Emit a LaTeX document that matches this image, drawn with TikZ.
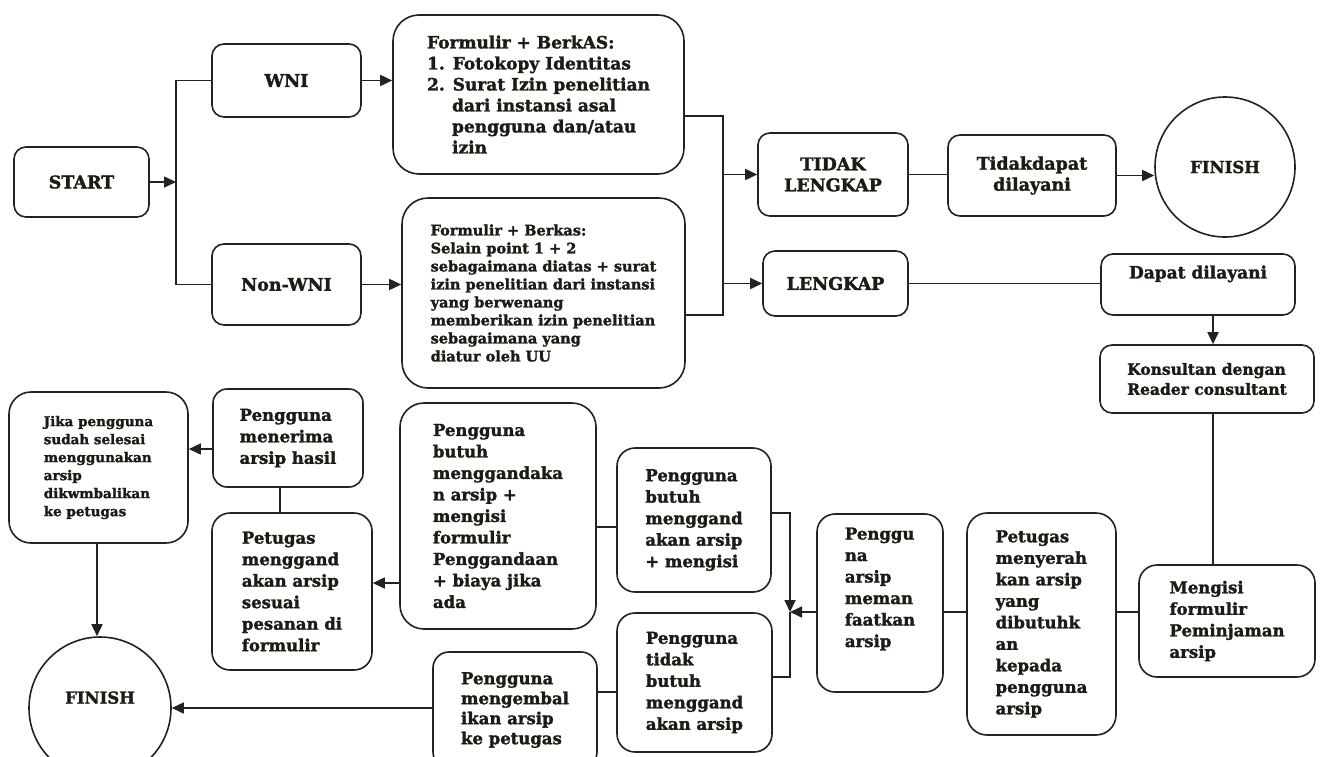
\documentclass[tikz,border=0pt]{standalone}
\usepackage{fontspec}
\setmainfont{DejaVu Serif}[BoldFeatures={FakeBold=1.6}]
\usetikzlibrary{arrows.meta}
\definecolor{ink}{HTML}{222222}
\definecolor{txt}{HTML}{1E1A14}
\begin{document}
\begin{tikzpicture}[x=1pt,y=-1pt,
  box/.style={draw=ink, line width=1.6pt, rounded corners=#1, inner sep=0pt, align=left,
    font=\bfseries\fontsize{16.5}{21.5}\selectfont, text=txt},
  box/.default=12pt,
  sz/.style n args={2}{minimum width=#1pt, minimum height=#2pt},
  endc/.style={draw=ink, line width=1.6pt, circle, inner sep=0pt, minimum size=#1pt,
    font=\bfseries\fontsize{16.5}{20}\selectfont, text=txt},
  ln/.style={draw=ink, line width=1.6pt},
  arr/.style={ln, -{Triangle[length=12pt,width=11pt]}},
  big/.style={font=\bfseries\fontsize{17.5}{21}\selectfont},
  small/.style={font=\bfseries\fontsize{13.5}{18}\selectfont}
]
\fill[white] (0,0) rectangle (1324,756);
\useasboundingbox (0,0) rectangle (1324,756);
\begin{scope}
\clip (0,0) rectangle (1324,756);
% top row
\node[box, sz={135}{70}, big, align=center] (start) at (81.5,182) {START};
\node[box, sz={149}{73}, big, align=center] (wni) at (286.5,80.5) {WNI};
\node[box, sz={149}{81}, big, align=center] (nonwni) at (286.5,284.5) {Non-WNI};
\node[box=26pt, sz={291}{159}, font=\bfseries\fontsize{17}{21}\selectfont] (form1) at (538.5,94.5)
  {Formulir + BerkAS:\\
   1. Fotokopy Identitas\\
   2. Surat Izin penelitian\\
   \hspace*{25pt}dari instansi asal\\
   \hspace*{25pt}pengguna dan/atau\\
   \hspace*{25pt}izin};
\node[box=26pt, sz={283}{190}, font=\bfseries\fontsize{14.5}{18}\selectfont] (form2) at (543.5,293)
  {Formulir + Berkas:\\
   Selain point 1 + 2\\
   sebagaimana diatas + surat\\
   izin penelitian dari instansi\\
   yang berwenang\\
   memberikan izin penelitian\\
   sebagaimana yang\\
   diatur oleh UU};
\node[box, sz={150}{83}, big, align=center] (tidak) at (833,174.5) {TIDAK\\LENGKAP};
\node[box, sz={168}{81}, big, align=center] (tdl) at (1032,175.5) {Tidakdapat\\dilayani};
\node[endc=140] (fin1) at (1225,167) {FINISH};
\node[box, sz={145}{65}, big, align=center] (lengkap) at (835.5,283.5) {LENGKAP};
\node[box, sz={194}{61}, align=center, font=\bfseries\fontsize{17}{21}\selectfont] (dapat) at (1198,284.5) {Dapat dilayani\\[4pt]\mbox{}};
\node[box, sz={214}{68}, font=\bfseries\fontsize{15.5}{20}\selectfont] (kons) at (1207,379)
  {Konsultan dengan\\Reader consultant};
% bottom rows
\node[box=18pt, sz={176}{112}] (mengisi) at (1227,621) {Mengisi\\formulir\\Peminjaman\\arsip};
\node[box=20pt, sz={149}{222}] (petyer) at (1041.5,624)
  {Petugas\\menyerah\\kan arsip\\yang\\dibutuhk\\an\\kepada\\pengguna\\arsip};
\node[box=18pt, sz={126}{178}] (manf) at (880,603)
  {Penggu\\na\\arsip\\meman\\faatkan\\arsip\\[10pt]\mbox{}};
\node[box=18pt, sz={154}{144}] (butuh1) at (694,520)
  {Pengguna\\butuh\\menggand\\akan arsip\\+ mengisi};
\node[box=18pt, sz={155}{139}] (tidakbutuh) at (694.5,682.5)
  {Pengguna\\tidak\\butuh\\menggand\\akan arsip};
\node[box=24pt, sz={196}{226}] (bigbox) at (498,516)
  {Pengguna\\butuh\\menggandaka\\n arsip +\\mengisi\\formulir\\Penggandaan\\+ biaya jika\\ada};
\node[box=16pt, sz={164}{116}, font=\bfseries\fontsize{16.5}{20}\selectfont] (kembali) at (515,710)
  {Pengguna\\mengembal\\ikan arsip\\ke petugas};
\node[box=18pt, sz={160}{157}] (petmg) at (292,591.5)
  {Petugas\\menggand\\akan arsip\\sesuai\\pesanan di\\formulir};
\node[box=14pt, sz={150}{98}] (terima) at (288,438) {Pengguna\\menerima\\arsip hasil};
\node[box=22pt, sz={179}{151}, small] (jika) at (98.5,467.5)
  {Jika pengguna\\sudah selesai\\menggunakan\\arsip\\dikwmbalikan\\ke petugas};
\node[endc=142] (fin2) at (100,708) {\raisebox{21pt}{FINISH}};

% junctions
\coordinate (j1) at (176,182);
\coordinate (j2) at (723,116);
\coordinate (j3) at (723,315);
\coordinate (cx) at (1213,0);
\coordinate (ry) at (0,612);
\coordinate (j4) at (790,612);
\coordinate (b1) at (0,513);
\coordinate (b2) at (0,677);
\coordinate (jx) at (97,0);
\coordinate (tx) at (280,0);

% connectors
\draw[arr] (start.east) -- (j1);
\draw[ln] (wni.west) -| (j1) |- (nonwni.west);
\draw[arr] (wni.east) -- (wni.east -| form1.west);
\draw[arr] (nonwni.east) -- (nonwni.east -| form2.west);
\draw[ln] (form1.east |- j2) -- (j2) -- (j3) -- (form2.east |- j3);
\draw[arr] (j2 |- tidak.west) -- (tidak.west);
\draw[arr] (j2 |- lengkap.west) -- (lengkap.west);
\draw[ln] (tidak.east) -- (tidak.east -| tdl.west);
\draw[arr] (tdl.east) -- (fin1.west |- tdl.east);
\draw[ln] (lengkap.east) -- (lengkap.east -| dapat.west);
\draw[arr] (dapat.south -| cx) -- (kons.north -| cx);
\draw[ln] (kons.south -| cx) -- (mengisi.north -| cx);
\draw[ln] (mengisi.west |- ry) -- (petyer.east |- ry);
\draw[ln] (petyer.west |- ry) -- (manf.east |- ry);
\draw[arr] (manf.west |- ry) -- (j4);
\draw[arr] (butuh1.east |- b1) -| (j4);
\draw[ln] (tidakbutuh.east |- b2) -| (j4);
\draw[ln] (bigbox.east |- 0,527) -- (butuh1.west |- 0,527);
\draw[arr] (bigbox.west |- 0,583) -- (petmg.east |- 0,583);
\draw[ln] (terima.south -| tx) -- (petmg.north -| tx);
\draw[arr] (terima.west |- 0,449) -- (jika.east |- 0,449);
\draw[arr] (jika.south -| jx) -- (fin2.north -| jx);
\draw[ln] (tidakbutuh.west |- 0,692) -- (kembali.east |- 0,692);
\draw[arr] (kembali.west |- fin2.east) -- (fin2.east);
\end{scope}
\end{tikzpicture}
\end{document}
